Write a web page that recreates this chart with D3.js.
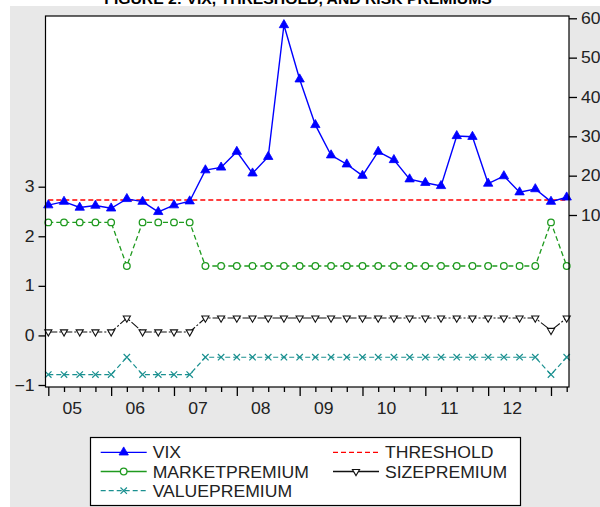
<!DOCTYPE html>
<html><head><meta charset="utf-8">
<script src="https://cdn.jsdelivr.net/npm/d3@7"></script>
<style>
html,body{margin:0;padding:0;background:#fff;}
svg{display:block;font-family:Arial,"Liberation Sans",sans-serif;}
</style></head>
<body>
<svg id="chart" width="600" height="507"></svg>
<script>
const quarters = ["2005Q1","2005Q2","2005Q3","2005Q4","2006Q1","2006Q2","2006Q3","2006Q4",
  "2007Q1","2007Q2","2007Q3","2007Q4","2008Q1","2008Q2","2008Q3","2008Q4",
  "2009Q1","2009Q2","2009Q3","2009Q4","2010Q1","2010Q2","2010Q3","2010Q4",
  "2011Q1","2011Q2","2011Q3","2011Q4","2012Q1","2012Q2","2012Q3","2012Q4",
  "2013Q1","2013Q2"];
const yearLabels = ["05","06","07","08","09","10","11","12"];
const vix = [12.5,13.4,11.9,12.4,11.7,14.1,13.4,10.8,12.5,13.5,21.4,22.1,26.1,20.6,24.8,58.3,
  44.5,32.9,25.2,22.9,20.0,26.1,24.0,19.1,18.2,17.4,30.1,29.9,18.0,19.9,15.8,16.6,13.4,14.5];
const threshold = [13.8,13.8,13.8,13.8,13.8,13.8,13.8,13.8,13.8,13.8,13.8,13.8,13.8,13.8,13.8,13.8,
  13.8,13.8,13.8,13.8,13.8,13.8,13.8,13.8,13.8,13.8,13.8,13.8,13.8,13.8,13.8,13.8,13.8,13.8];
const marketPremium = [2.28,2.28,2.28,2.28,2.28,1.40,2.28,2.28,2.28,2.28,1.40,1.40,1.40,1.40,1.40,1.40,
  1.40,1.40,1.40,1.40,1.40,1.40,1.40,1.40,1.40,1.40,1.40,1.40,1.40,1.40,1.40,1.40,2.28,1.40];
const sizePremium = [0.07,0.07,0.07,0.07,0.07,0.35,0.07,0.07,0.07,0.07,0.35,0.35,0.35,0.35,0.35,0.35,
  0.35,0.35,0.35,0.35,0.35,0.35,0.35,0.35,0.35,0.35,0.35,0.35,0.35,0.35,0.35,0.35,0.10,0.35];
const valuePremium = [-0.79,-0.79,-0.79,-0.79,-0.79,-0.44,-0.79,-0.79,-0.79,-0.79,-0.44,-0.44,-0.44,-0.44,-0.44,-0.44,
  -0.44,-0.44,-0.44,-0.44,-0.44,-0.44,-0.44,-0.44,-0.44,-0.44,-0.44,-0.44,-0.44,-0.44,-0.44,-0.44,-0.79,-0.44];
const leftTicks = [-1,0,1,2,3];
const rightTicks = [10,20,30,40,50,60];

const svg = d3.select("#chart");
const SX = 1.1; // horizontal stretch of text, as in the reference raster
// background panel
svg.append("rect").attr("x",10).attr("y",6).attr("width",590).attr("height",501).attr("fill","#e8e8e8");
// title (cut off at top, as in the reference)
svg.append("g").attr("transform","translate(298,3.5) scale(1.05,1)")
  .append("text").attr("x",0).attr("y",0).attr("text-anchor","middle")
  .attr("font-size",15).attr("font-weight","bold").attr("fill","#000")
  .text("FIGURE 2: VIX, THRESHOLD, AND RISK PREMIUMS");

const L = 45.5, R = 569, T = 16, B = 387;
svg.append("rect").attr("x",L).attr("y",T).attr("width",R-L).attr("height",B-T).attr("fill","#fff");

const x = d3.scaleLinear().domain([0, quarters.length-1]).range([48.3, 566.7]);
const yL = d3.scaleLinear().domain([-1,3]).range([385, 186.7]);
const yR = d3.scaleLinear().domain([10,60]).range([215, 18.3]);

const plot = svg.append("g");
function series(data, yScale, color, dash, width){
  const line = d3.line().x((d,i)=>x(i)).y(d=>yScale(d));
  plot.append("path").datum(data).attr("d",line).attr("fill","none")
    .attr("stroke",color).attr("stroke-width",width||1.3).attr("stroke-dasharray",dash||null);
}
const cBlue="#0000ff", cRed="#ff0000", cGreen="#1f9a1f", cBlack="#111", cTeal="#1a9090";

function markers(data, yScale, kind, color){
  const g = plot.append("g");
  data.forEach((d,i)=>{ drawMarker(g, kind, x(i), yScale(d), color); });
}
function drawMarker(g, kind, cx, cy, color){
  if(kind==="tri"){
    g.append("path").attr("d", d3.symbol().type(d3.symbolTriangle).size(38)())
      .attr("transform",`translate(${cx},${cy})`).attr("fill",color).attr("stroke",color).attr("stroke-width",0.8);
  } else if(kind==="circ"){
    g.append("circle").attr("cx",cx).attr("cy",cy).attr("r",3.3).attr("fill","#fff")
      .attr("stroke",color).attr("stroke-width",1.3);
  } else if(kind==="tridown"){
    g.append("path").attr("d", d3.symbol().type(d3.symbolTriangle).size(22)())
      .attr("transform",`translate(${cx},${cy}) rotate(180)`).attr("fill","#fff").attr("stroke",color).attr("stroke-width",1.1);
  } else if(kind==="x"){
    g.append("path").attr("d", `M${cx-3.2},${cy-3.2}L${cx+3.2},${cy+3.2}M${cx-3.2},${cy+3.2}L${cx+3.2},${cy-3.2}`)
      .attr("stroke",color).attr("stroke-width",1.2).attr("fill","none");
  }
}

series(valuePremium, yL, cTeal, "5,3", 1.2);
markers(valuePremium, yL, "x", cTeal);
series(sizePremium, yL, cBlack, "9,2,2,2", 1.1);
markers(sizePremium, yL, "tridown", cBlack);
series(marketPremium, yL, cGreen, "5,3", 1.3);
markers(marketPremium, yL, "circ", cGreen);
series(threshold, yR, cRed, "5,3", 1.4);
series(vix, yR, cBlue, null, 1.4);
markers(vix, yR, "tri", cBlue);

// frame
svg.append("rect").attr("x",L).attr("y",T).attr("width",R-L).attr("height",B-T)
  .attr("fill","none").attr("stroke","#000").attr("stroke-width",1.2);

// axes
const axL = svg.append("g").attr("transform",`translate(${L},0)`)
  .call(d3.axisLeft(yL).tickValues(leftTicks).tickSize(7).tickPadding(3).tickFormat(d3.format("d")));
const axR = svg.append("g").attr("transform",`translate(${R},0)`)
  .call(d3.axisRight(yR).tickValues(rightTicks).tickSize(8).tickPadding(3).tickFormat(d3.format("d")));
const axB = svg.append("g").attr("transform",`translate(0,${B})`)
  .call(d3.axisBottom(x).tickValues(d3.range(quarters.length)).tickSize(5).tickFormat(""));
axB.selectAll(".tick line").attr("y2",(d)=> quarters[d].endsWith("Q1") ? 9 : 5);
const labelPos = yearLabels.map((y,k)=>1.5+4*k);
const axBL = svg.append("g").attr("transform",`translate(0,${B})`)
  .call(d3.axisBottom(x).tickValues(labelPos).tickSize(0).tickPadding(16).tickFormat((d,k)=>yearLabels[k]));
axBL.select(".domain").remove();
[axL,axR,axB].forEach(a=>a.select(".domain").remove());
[axL,axR,axB,axBL].forEach(a=>{
  a.selectAll("text").attr("font-size",16).attr("fill","#222")
    .attr("font-family","Arial, 'Liberation Sans', sans-serif")
    .attr("transform",`scale(${SX},1)`);
  a.selectAll("line").attr("stroke","#000").attr("stroke-width",1.3);
});

// legend
const lg = svg.append("g");
lg.append("rect").attr("x",90.5).attr("y",437.5).attr("width",430).attr("height",68)
  .attr("fill","#fff").attr("stroke","#000").attr("stroke-width",1.2);
const legendItems = [
  {name:"VIX", color:cBlue, dash:null, mk:"tri", col:0, row:0},
  {name:"THRESHOLD", color:cRed, dash:"5,3", mk:null, col:1, row:0},
  {name:"MARKETPREMIUM", color:cGreen, dash:null, mk:"circ", col:0, row:1},
  {name:"SIZEPREMIUM", color:cBlack, dash:null, mk:"tridown", col:1, row:1},
  {name:"VALUEPREMIUM", color:cTeal, dash:"5,3", mk:"x", col:0, row:2}
];
const colX = [100.7, 333], rowY = [452.3, 471.5, 490.7];
legendItems.forEach(it=>{
  const x0 = colX[it.col], y0 = rowY[it.row];
  lg.append("line").attr("x1",x0).attr("x2",x0+46).attr("y1",y0).attr("y2",y0)
    .attr("stroke",it.color).attr("stroke-width",1.3).attr("stroke-dasharray",it.dash);
  if(it.mk) drawMarker(lg, it.mk, x0+23, y0, it.color);
  lg.append("g").attr("transform",`translate(${x0+52},${y0+6}) scale(${SX},1)`)
    .append("text").attr("x",0).attr("y",0).attr("font-size",16).attr("fill","#222").text(it.name);
});
</script>
</body></html>
